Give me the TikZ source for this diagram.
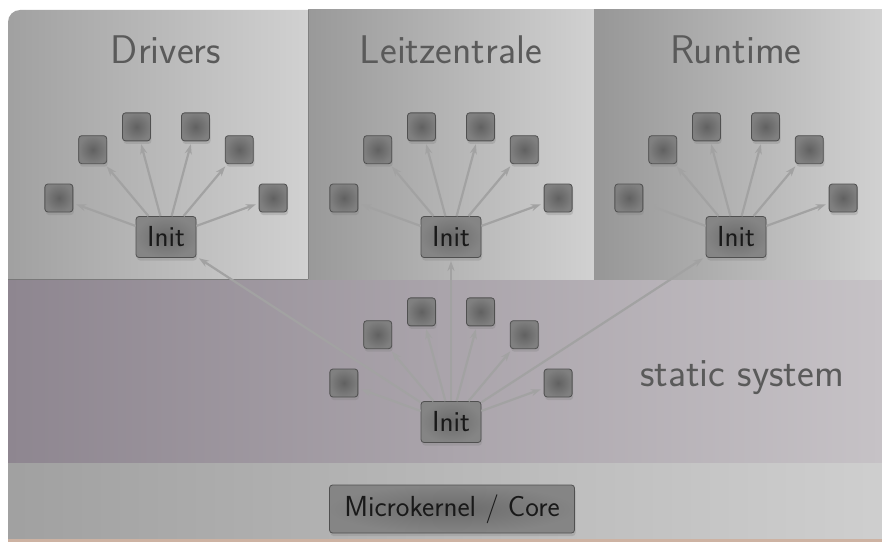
\documentclass[tikz,border=0pt]{standalone}
\usepackage{fontspec}
\usepackage{tikz}
\usetikzlibrary{calc,shadows,arrows.meta}

\definecolor{titlegray}{HTML}{5A5A5A}
\definecolor{sqborder}{HTML}{505050}
\definecolor{arrgray}{HTML}{A2A2A2}

\begin{document}
\begin{tikzpicture}[x=1pt,y=1pt,
    sq/.style={minimum size=28pt,inner sep=0pt,rounded corners=3pt,draw=sqborder,line width=0.8pt,
        inner color=black!62,outer color=black!50,
        drop shadow={opacity=0.3,shadow xshift=1pt,shadow yshift=-3pt}},
    initbox/.style={minimum width=60pt,minimum height=41pt,inner sep=0pt,rounded corners=3pt,draw=sqborder,line width=0.8pt,
        inner color=black!58,outer color=black!48,text=black!90,
        font=\sffamily\fontsize{29}{34}\selectfont,
        drop shadow={opacity=0.3,shadow xshift=1pt,shadow yshift=-3pt}},
    arr/.style={-{Stealth[length=10pt,width=7pt]},line width=2.2pt,draw=arrgray,shorten >=3pt},
    title/.style={text=titlegray,font=\sffamily\fontsize{40}{46}\selectfont}]
    \useasboundingbox (0,0) rectangle (882,542);
    % bands
    \fill[fill={rgb,255:red,205;green,178;blue,162}] (8,0) rectangle (882,4);
    \shade[left color=black!37,right color=black!19] (8,4) rectangle (882,80);
    \shade[left color={rgb,255:red,142;green,134;blue,144},right color={rgb,255:red,198;green,194;blue,198}] (8,80) rectangle (882,263);
    \draw[black!55,line width=0.8pt] (8,263) -- (882,263);
    % panels
    \shade[left color=black!37,right color=black!18] (8,263) -- (8,520) arc (180:90:12) -- (308,532) -- (308,263) -- cycle;
    \shade[left color=black!40,right color=black!18] (308,263) rectangle (594,532);
    \shade[left color=black!41,right color=black!18] (594,263) rectangle (882,532);
    \draw[black!50,line width=0.8pt] (308,263) -- (308,532);
    % titles
    \node[title] (tD) at (166,492) {Drivers};
    \node[title] (tL) at (451,492) {Leitzentrale};
    \node[title] (tR) at (736,492) {Runtime};
    \node[title] (tS) at (742,164) {static system};
    % init clusters
    \foreach \c/\x/\y in {D/166/305,L/451/305,R/736/305,S/451/120} {
        \coordinate (c\c) at (\x,\y);
        \foreach \a in {20,50,75,105,130,160}
            \node[sq] (\c\a) at ($(c\c)+(\a:114)$) {};
    }
    \foreach \c in {D,L,R,S}
        \node[initbox] (init\c) at (c\c) {Init};
    \foreach \c in {D,L,R,S}
        \foreach \a in {20,50,75,105,130,160}
            \draw[arr] (init\c) -- (\c\a);
    \draw[arr] (initS) -- (initD);
    \draw[arr] (initS) -- (initL);
    \draw[arr] (initS) -- (initR);
    % core
    \node[initbox,minimum width=245pt,minimum height=48pt] (core) at (452,33) {Microkernel / Core};
\end{tikzpicture}
\end{document}
